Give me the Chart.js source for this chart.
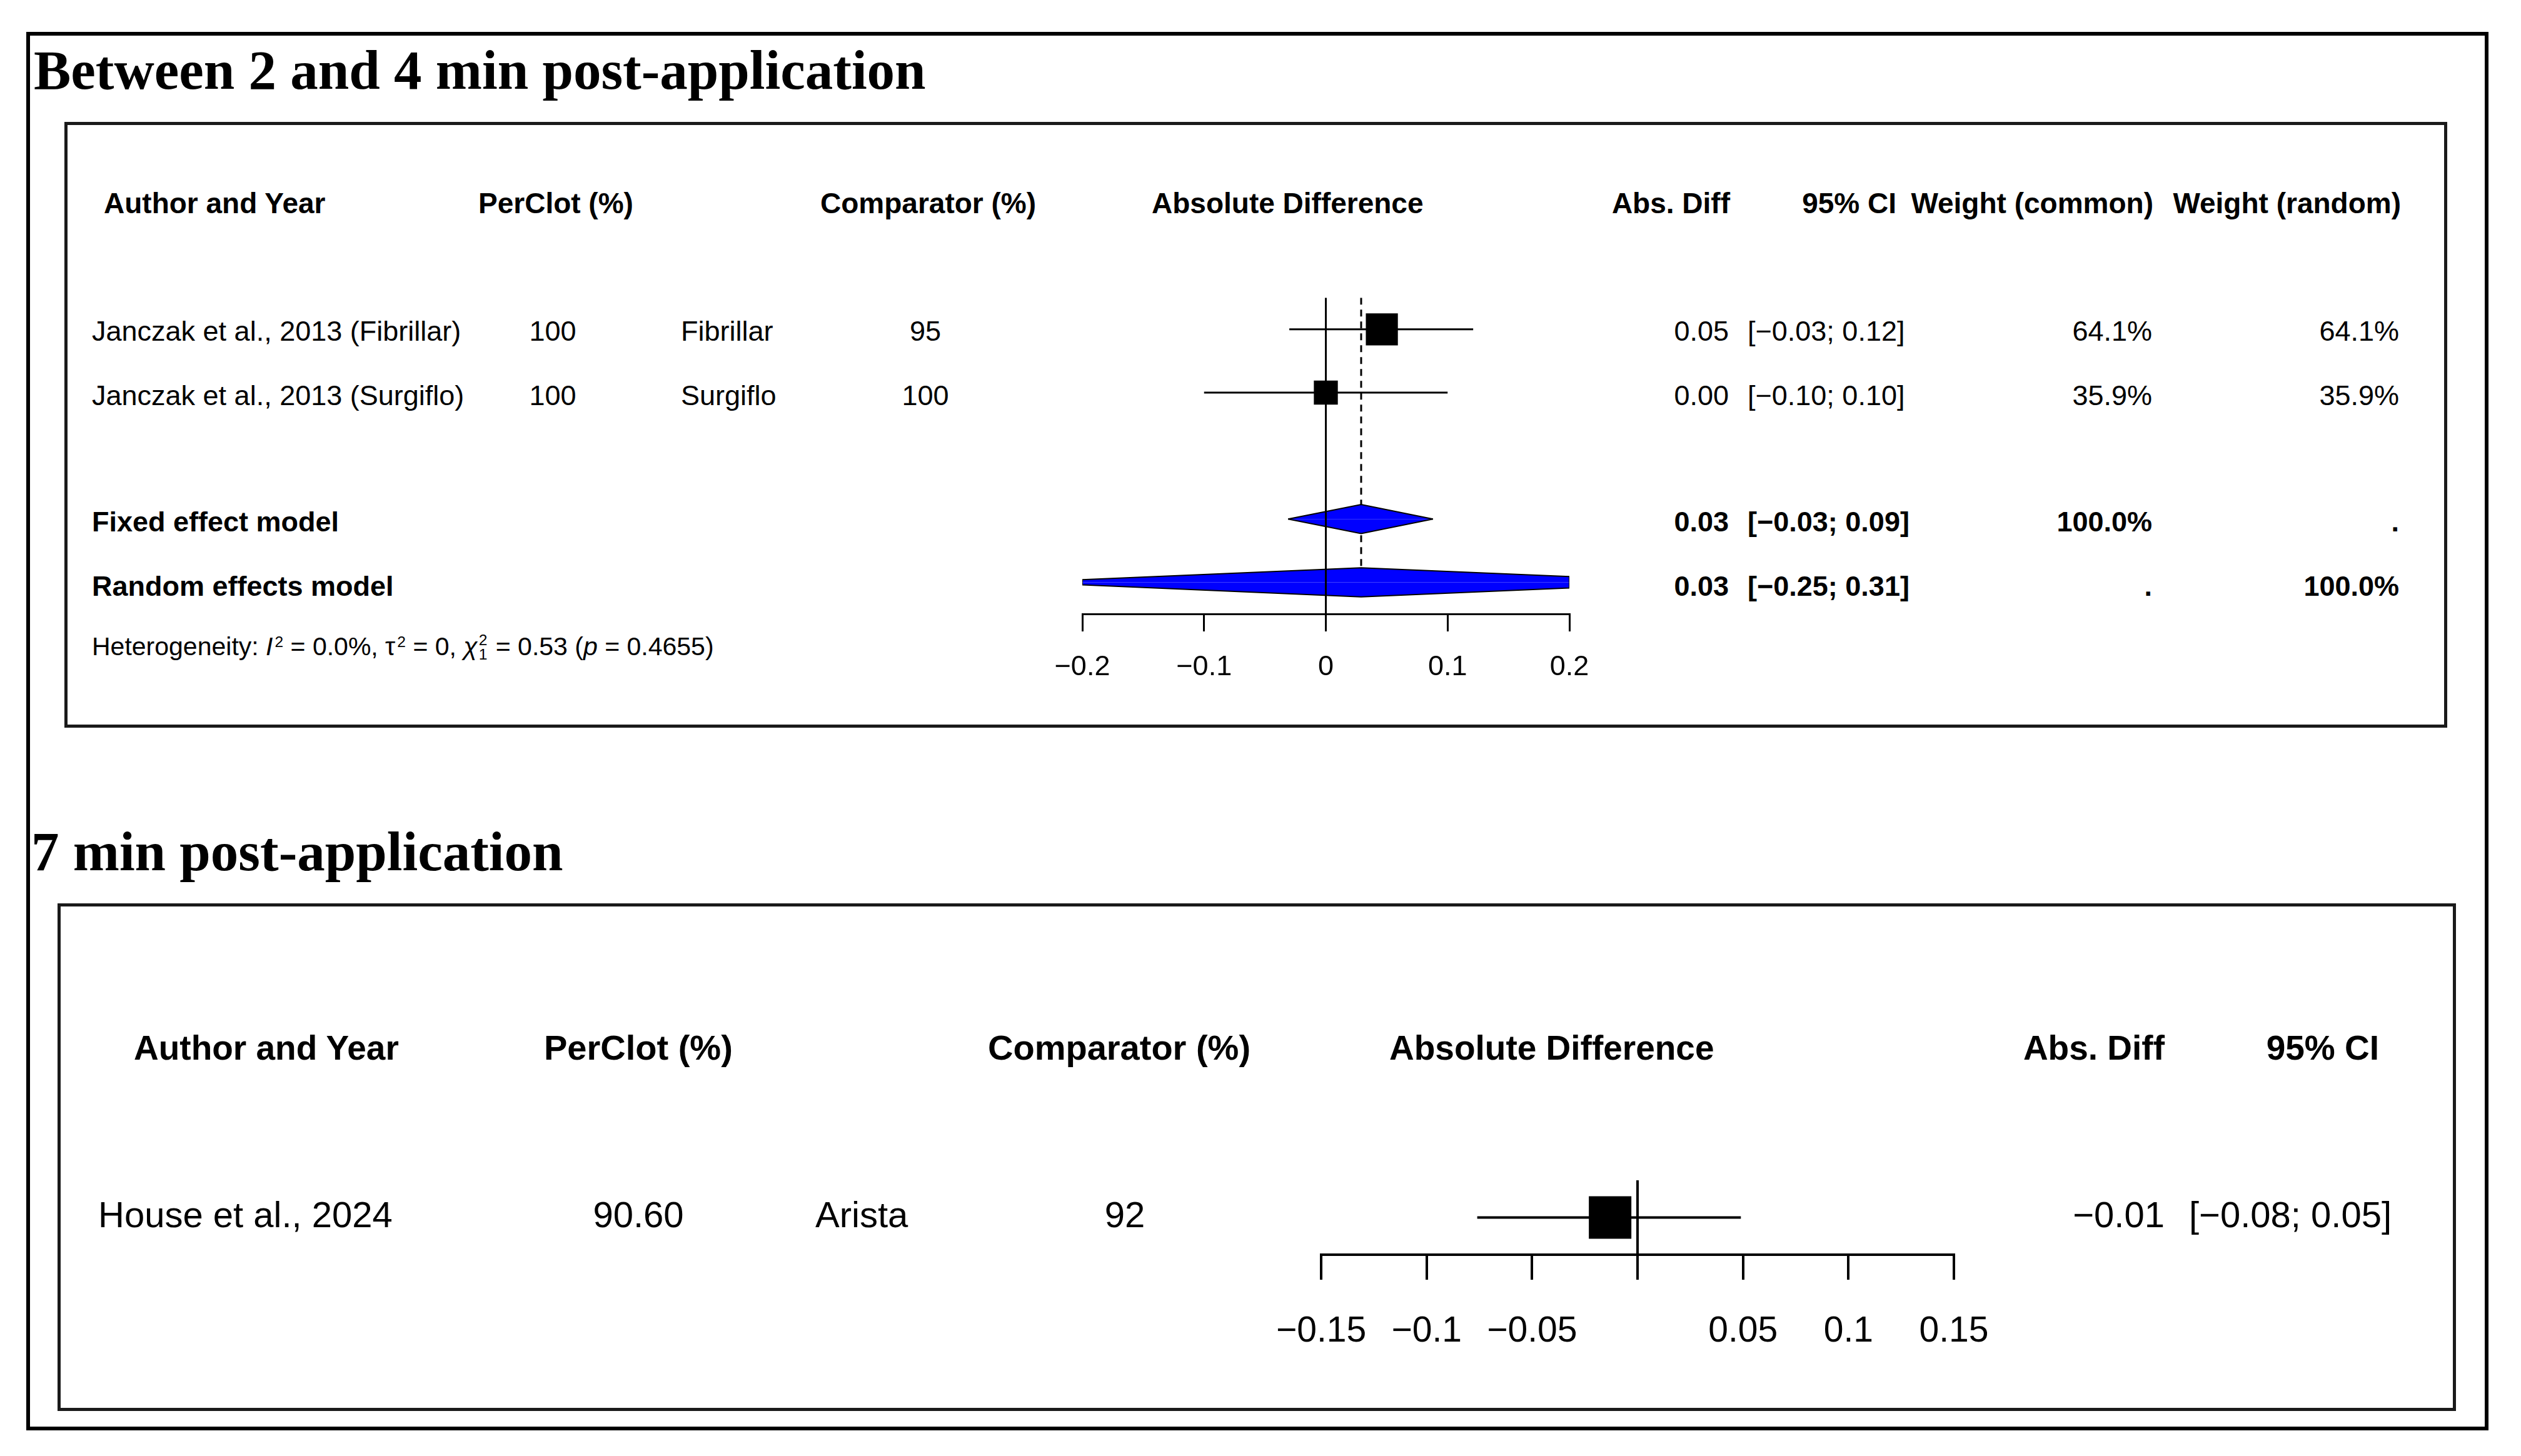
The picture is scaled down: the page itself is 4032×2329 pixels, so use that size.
<!DOCTYPE html>
<html>
<head>
<meta charset="utf-8">
<script src="https://cdn.jsdelivr.net/npm/chart.js@4.4.1/dist/chart.umd.min.js"></script>
<style>
  body { margin: 0; width: 4032px; height: 2329px; background: #fff; position: relative; overflow: hidden;
         font-family: "Liberation Sans", Arial, sans-serif; color: #000; }
  .box { position: absolute; box-sizing: border-box; }
  .t { position: absolute; white-space: nowrap; line-height: 1; }
  .title { position: absolute; white-space: nowrap; line-height: 1; font-family: "Liberation Serif", serif;
           font-weight: bold; font-size: 89px; }
  .sup { position: relative; top: -0.55em; font-size: 0.6em; margin-left: 3px; }
  .ss { display: inline-flex; flex-direction: column; font-size: 0.6em; line-height: 0.95; vertical-align: middle;
        position: relative; top: -0.1em; margin: 0 2px 0 2px; }
  canvas { position: absolute; }
</style>
</head>
<body>
<div class="box" style="left:42px;top:51px;width:3938px;height:2237px;border:6px solid #000"></div>
<div class="box" style="left:103px;top:195px;width:3811px;height:969px;border:5px solid #1a1a1a"></div>
<div class="box" style="left:92px;top:1445px;width:3836px;height:812px;border:5px solid #1a1a1a"></div>

<div class="title" style="left:54px;top:68px">Between 2 and 4 min post-application</div>
<div class="title" style="left:50px;top:1318px">7 min post-application</div>

<canvas id="forest1" width="1050" height="700" style="left:1600px;top:440px"></canvas>
<canvas id="forest2" width="1300" height="380" style="left:1980px;top:1840px"></canvas>

<script>
// ---- panel 1: between 2 and 4 min ----
const headers1 = ["Author and Year", "PerClot (%)", "Comparator (%)", "Absolute Difference", "Abs. Diff", "95% CI", "Weight (common)", "Weight (random)"];
const authors1 = ["Janczak et al., 2013 (Fibrillar)", "Janczak et al., 2013 (Surgiflo)"];
const perclot1 = ["100", "100"];
const compNames1 = ["Fibrillar", "Surgiflo"];
const compVals1 = ["95", "100"];
const est1 = [0.046, 0.0];
const lower1 = [-0.03, -0.10];
const upper1 = [0.121, 0.10];
const weightCommon1 = [64.1, 35.9];
const weightRandom1 = [64.1, 35.9];
const models1 = ["Fixed effect model", "Random effects model"];
const modelEst1 = [0.029, 0.029];
const modelLower1 = [-0.031, -0.25];
const modelUpper1 = [0.088, 0.31];
const modelWeightCommon1 = ["100.0%", "."];
const modelWeightRandom1 = [".", "100.0%"];
const heterogeneity1 = { i2: "0.0%", tau2: "0", q: "0.53", p: "0.4655" };
const ticks1 = [-0.2, -0.1, 0, 0.1, 0.2];
const tickLabels1 = ["\u22120.2", "\u22120.1", "0", "0.1", "0.2"];

// ---- panel 2: 7 min ----
const headers2 = ["Author and Year", "PerClot (%)", "Comparator (%)", "Absolute Difference", "Abs. Diff", "95% CI"];
const authors2 = ["House et al., 2024"];
const perclot2 = ["90.60"];
const compNames2 = ["Arista"];
const compVals2 = ["92"];
const est2 = [-0.013];
const lower2 = [-0.076];
const upper2 = [0.049];
const ticks2 = [-0.15, -0.1, -0.05, 0, 0.05, 0.1, 0.15];
const tickLabels2 = ["\u22120.15", "\u22120.1", "\u22120.05", "", "0.05", "0.1", "0.15"];

const fmt = v => (v < 0 ? "\u2212" : "") + Math.abs(v).toFixed(2);
const ci = (lo, hi) => "[" + fmt(lo) + "; " + fmt(hi) + "]";

function txt(html, x, y, size, align, bold) {
  const d = document.createElement("div");
  d.className = "t";
  d.innerHTML = html;
  d.style.left = x + "px";
  d.style.top = y + "px";
  d.style.fontSize = size + "px";
  if (bold) d.style.fontWeight = "bold";
  const tx = align === "right" ? "-100%" : align === "center" ? "-50%" : "0";
  d.style.transform = "translate(" + tx + ",-50%)";
  document.body.appendChild(d);
}

// panel 1 text
const head1X = [[166, "left"], [765, "left"], [1312, "left"], [1842, "left"], [2767, "right"], [3033, "right"], [3444, "right"], [3840, "right"]];
headers1.forEach((h, i) => txt(h, head1X[i][0], 325, 46, head1X[i][1], true));
const rowY1 = [529, 632];
authors1.forEach((a, i) => {
  const y = rowY1[i];
  txt(a, 147, y, 45, "left");
  txt(perclot1[i], 884, y, 45, "center");
  txt(compNames1[i], 1089, y, 45, "left");
  txt(compVals1[i], 1480, y, 45, "center");
  txt(fmt(est1[i]), 2765, y, 45, "right");
  txt(ci(lower1[i], upper1[i]), 2795, y, 45, "left");
  txt(weightCommon1[i].toFixed(1) + "%", 3442, y, 45, "right");
  txt(weightRandom1[i].toFixed(1) + "%", 3837, y, 45, "right");
});
const modelY1 = [834, 937];
models1.forEach((m, i) => {
  const y = modelY1[i];
  txt(m, 147, y, 45, "left", true);
  txt(fmt(modelEst1[i]), 2765, y, 45, "right", true);
  txt(ci(modelLower1[i], modelUpper1[i]), 2795, y, 45, "left", true);
  txt(modelWeightCommon1[i], 3442, y, 45, "right", true);
  txt(modelWeightRandom1[i], 3837, y, 45, "right", true);
});
txt("Heterogeneity: <i>I</i><span class='sup'>2</span> = " + heterogeneity1.i2 +
    ", \u03c4<span class='sup'>2</span> = " + heterogeneity1.tau2 +
    ", <i>\u03c7</i><span class='ss'><span>2</span><span>1</span></span> = " + heterogeneity1.q +
    " (<i>p</i> = " + heterogeneity1.p + ")", 147, 1037, 41, "left");

// panel 2 text
const head2X = [[214, "left"], [870, "left"], [1580, "left"], [2222, "left"], [3462, "right"], [3805, "right"]];
headers2.forEach((h, i) => txt(h, head2X[i][0], 1676, i === 1 || i === 2 ? 56 : 55, head2X[i][1], true));
authors2.forEach((a, i) => {
  const y = 1943;
  txt(a, 157, y, 58, "left");
  txt(perclot2[i], 1021, y, 58, "center");
  txt(compNames2[i], 1304, y, 58, "left");
  txt(compVals2[i], 1799, y, 58, "center");
  txt(fmt(est2[i]), 3462, y, 58, "right");
  txt(ci(lower2[i], upper2[i]), 3501, y, 58, "left");
});

// ---- forest plots ----
function seg(points, width, extra) {
  return Object.assign({ data: points, showLine: true, borderColor: "#000", borderWidth: width,
    pointRadius: 0, fill: false, tension: 0 }, extra || {});
}

function diamondHalf(lo, est, hi, y, h, sign, xmin, xmax) {
  const frac = x => x <= est ? (x - lo) / (est - lo) : (hi - x) / (hi - est);
  const a = Math.max(lo, xmin), b = Math.min(hi, xmax);
  const pts = [{ x: a, y: y }];
  if (a > lo) pts.push({ x: a, y: y + sign * h * frac(a) });
  pts.push({ x: est, y: y + sign * h });
  if (b < hi) pts.push({ x: b, y: y + sign * h * frac(b) });
  pts.push({ x: b, y: y });
  return pts;
}

function forest(id, o) {
  const ds = [];
  const yMin = 0.5, yMax = o.rows + 0.5;
  ds.push(seg([{ x: 0, y: yMin }, { x: 0, y: yMax }], o.lw, { order: 0 }));
  ds.push({ data: o.est.map((e, i) => ({ x: e, y: i + 1 })), pointStyle: "rect",
    pointRadius: o.side.map(s => s / Math.SQRT2), backgroundColor: "#000", borderColor: "#000",
    pointBorderWidth: 0, showLine: false, order: 1 });
  o.est.forEach((e, i) => ds.push(seg([{ x: o.lo[i], y: i + 1 }, { x: o.hi[i], y: i + 1 }], o.lw, { order: 3 })));
  (o.mEst || []).forEach((e, j) => {
    const y = o.est.length + 2 + j;
    [-1, 1].forEach(sign => ds.push(seg(diamondHalf(o.mLo[j], e, o.mHi[j], y, o.dh, sign, o.min, o.max), 2,
      { fill: { value: y }, backgroundColor: "#0000ff", order: 2 })));
  });
  if (o.mEst) {
    ds.push(seg([{ x: o.mEst[0], y: yMin }, { x: o.mEst[0], y: o.rows - o.dh }], o.lw,
      { borderDash: [11, 8], order: 4 }));
  }
  return new Chart(document.getElementById(id), {
    type: "scatter",
    data: { datasets: ds },
    options: {
      responsive: false, animation: false, events: [],
      layout: { padding: o.pad },
      plugins: { legend: { display: false }, tooltip: { enabled: false } },
      scales: {
        x: {
          type: "linear", min: o.min, max: o.max, position: "bottom",
          afterBuildTicks: s => { s.ticks = o.ticks.map(v => ({ value: v })); },
          afterFit: s => { s.height = o.axisH; },
          ticks: { callback: (v, i) => o.tickLabels[i], autoSkip: false, maxRotation: 0,
            font: { family: "Liberation Sans", size: o.tickSize }, color: "#000", padding: o.tickPad },
          grid: { drawOnChartArea: false, drawTicks: true, tickLength: o.tickLen, color: "#000", lineWidth: o.lw },
          border: { display: true, color: "#000", width: o.lw }
        },
        y: { type: "linear", display: false, min: yMin, max: yMax, reverse: true }
      }
    }
  });
}

forest("forest1", {
  rows: 5, est: est1, lo: lower1, hi: upper1,
  side: weightCommon1.map(w => 64 * Math.sqrt(w / 100)),
  mEst: modelEst1, mLo: modelLower1, mHi: modelUpper1, dh: 0.23,
  min: -0.2, max: 0.2, ticks: ticks1, tickLabels: tickLabels1,
  lw: 3, tickLen: 28, tickPad: 31, tickSize: 45, axisH: 140,
  pad: { left: 131, right: 140, top: 32, bottom: 18 }
});

forest("forest2", {
  rows: 1, est: est2, lo: lower2, hi: upper2, side: [68],
  min: -0.15, max: 0.15, ticks: ticks2, tickLabels: tickLabels2,
  lw: 4, tickLen: 40, tickPad: 49, tickSize: 57, axisH: 180,
  pad: { left: 133, right: 155, top: 33, bottom: 33 }
});
</script>
</body>
</html>
